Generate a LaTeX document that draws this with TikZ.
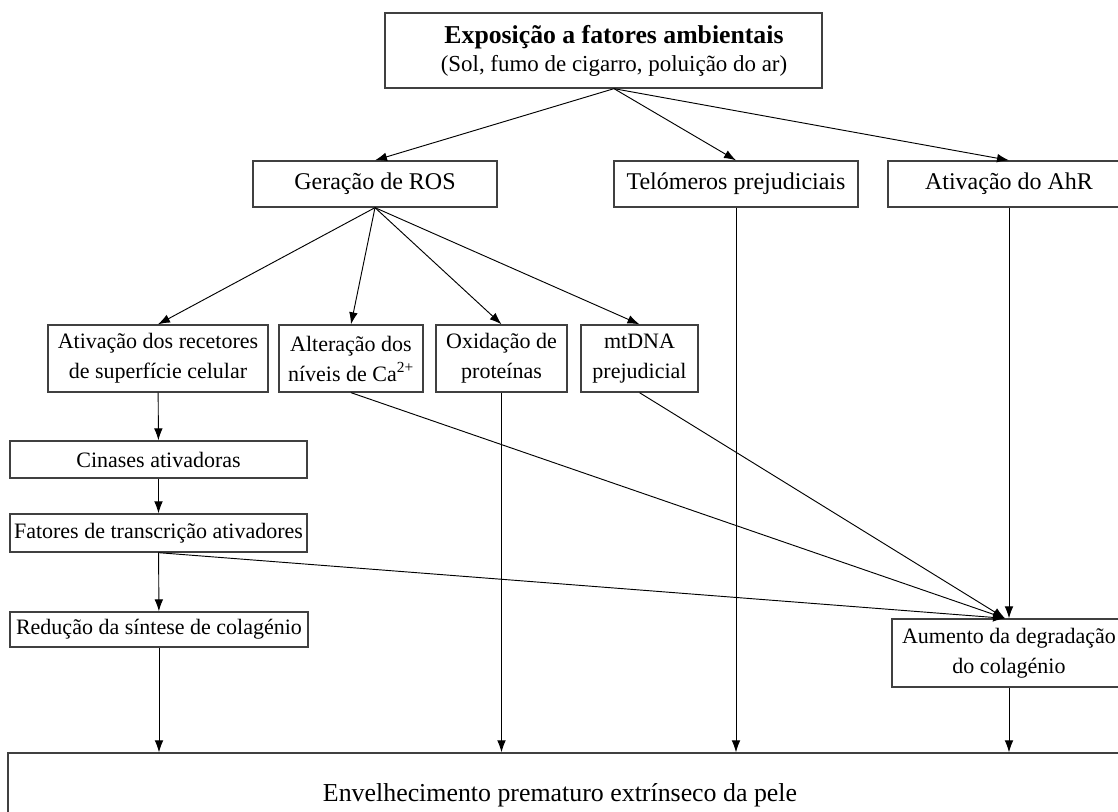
\documentclass[tikz,border=0pt]{standalone}
\usepackage{fontspec}
\setmainfont{Liberation Serif}
\usetikzlibrary{arrows.meta,calc}

\begin{document}
\begin{tikzpicture}[x=0.75pt,y=-0.75pt,
  box/.style={draw=black!75, line width=1pt, inner sep=0pt, align=center,
              font=\fontsize{16.5}{22.5}\selectfont},
  rowtwo/.style={font=\fontsize{18}{22}\selectfont},
  sz/.style 2 args={minimum width=#1*0.75pt, minimum height=#2*0.75pt},
  arr/.style={-{Latex[length=9pt,width=6.5pt]}, line width=0.7pt, black},
]
\useasboundingbox (0,0) rectangle (1118,812);
\clip (0,0) rectangle (1118,812);

% top cause: frame and its two lines of text
\node[box, sz={437}{75}] (expo) at (603.5,50.5) {};
\node[align=center, inner sep=0pt, font=\fontsize{17.2}{21}\selectfont] (expot) at (614,50.5)
  {{\bfseries\fontsize{19.3}{21}\selectfont Exposição a fatores ambientais}\\(Sol, fumo de cigarro, poluição do ar)};
\coordinate (src) at (expot |- expo.south);

% second row
\node[box, rowtwo, sz={244}{46}] (ros)  at (375,184)  {Geração de ROS};
\node[box, rowtwo, sz={244}{46}] (telo) at (736,184)  {Telómeros prejudiciais};
\node[box, rowtwo, sz={242}{46}] (ahr)  at (1009,184) {Ativação do AhR};

% third row
\node[box, sz={220}{67}] (rec) at (158,358.5)   {Ativação dos recetores\\de superfície celular};
\node[box, sz={144}{67}] (alt) at (351,358.5)   {Alteração dos\\níveis de Ca\textsuperscript{2+}};
\node[box, sz={131}{67}] (oxi) at (501.5,358.5) {Oxidação de\\proteínas};
\node[box, sz={117}{67}] (mtd) at (639.5,358.5) {mtDNA\\prejudicial};

% left chain
\node[box, sz={297}{37}] (cin) at (158.5,459.5) {Cinases ativadoras};
\node[box, sz={297}{38}] (fat) at (158.5,533)   {Fatores de transcrição ativadores};
\node[box, sz={298}{35}] (red) at (159,629.5)   {Redução da síntese de colagénio};

% right
\node[box, sz={234}{68}] (aum) at (1009,653) {Aumento da degradação\\do colagénio};

% outcome
\node[box, sz={1122}{94}] (env) at (569,800) {};
\node[font=\fontsize{19.4}{22}\selectfont, inner sep=0pt] (envt) at (560,795)
  {Envelhecimento prematuro extrínseco da pele};

% connectors
\draw[arr] (src) -- (ros.north);
\draw[arr] (src) -- (telo.north);
\draw[arr] (src) -- (ahr.north);

\draw[arr] (ros.south) -- (rec.north);
\draw[arr] (ros.south) -- (alt.north);
\draw[arr] (ros.south) -- (oxi.north);
\draw[arr] (ros.south) -- (mtd.north);

\draw[arr] (rec) -- (cin);
\draw[arr] (cin) -- (fat);
\draw[arr] (fat) -- (red);

\coordinate (hit) at ($(aum.north)+(-4,0)$);
\draw[arr] (alt.south) -- (hit);
\draw[arr] (mtd.south) -- (hit);
\draw[arr] (fat.south) -- (hit);
\draw[arr] (ahr.south) -- (aum.north);

\draw[arr] (red.south)  -- (red.south  |- env.north);
\draw[arr] (oxi.south)  -- (oxi.south  |- env.north);
\draw[arr] (telo.south) -- (telo.south |- env.north);
\draw[arr] (aum.south)  -- (aum.south  |- env.north);
\end{tikzpicture}
\end{document}
